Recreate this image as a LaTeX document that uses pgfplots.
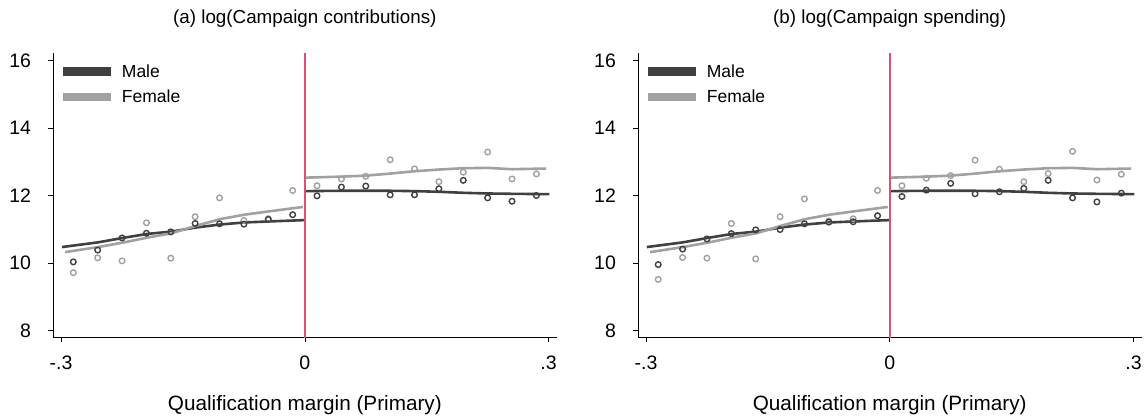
\documentclass[border=0pt]{standalone}
\usepackage{pgfplots}
\pgfplotsset{compat=1.18}
\usepackage{fontspec}
\setmainfont{Liberation Sans}
\definecolor{male}{gray}{0.25}
\definecolor{female}{gray}{0.63}
\definecolor{cut}{RGB}{220,80,115}

\pgfplotstableread{
x y
-0.285 10.03
-0.255 10.38
-0.225 10.74
-0.195 10.88
-0.165 10.92
-0.135 11.17
-0.105 11.16
-0.075 11.15
-0.045 11.29
-0.015 11.43
0.015 11.99
0.045 12.25
0.075 12.28
0.105 12.02
0.135 12.02
0.165 12.20
0.195 12.45
0.225 11.93
0.255 11.83
0.285 12.00
}\aMscat
\pgfplotstableread{
x y
-0.285 9.71
-0.255 10.15
-0.225 10.06
-0.195 11.19
-0.165 10.14
-0.135 11.37
-0.105 11.93
-0.075 11.26
-0.045 11.31
-0.015 12.15
0.015 12.29
0.045 12.49
0.075 12.57
0.105 13.06
0.135 12.79
0.165 12.41
0.195 12.69
0.225 13.29
0.255 12.49
0.285 12.64
}\aFscat
\pgfplotstableread{
x y
-0.285 9.95
-0.255 10.41
-0.225 10.71
-0.195 10.87
-0.165 10.98
-0.135 10.99
-0.105 11.16
-0.075 11.21
-0.045 11.22
-0.015 11.40
0.015 11.97
0.045 12.16
0.075 12.36
0.105 12.05
0.135 12.11
0.165 12.21
0.195 12.45
0.225 11.93
0.255 11.81
0.285 12.07
}\bMscat
\pgfplotstableread{
x y
-0.285 9.51
-0.255 10.16
-0.225 10.14
-0.195 11.17
-0.165 10.12
-0.135 11.37
-0.105 11.90
-0.075 11.24
-0.045 11.31
-0.015 12.15
0.015 12.29
0.045 12.51
0.075 12.59
0.105 13.05
0.135 12.78
0.165 12.41
0.195 12.65
0.225 13.31
0.255 12.46
0.285 12.63
}\bFscat
% smoothed lines
\pgfplotstableread{
x y
-0.299 10.47
-0.2545 10.61
-0.2243 10.74
-0.194 10.86
-0.164 10.93
-0.134 11.05
-0.104 11.14
-0.0745 11.20
-0.044 11.23
-0.0004 11.27
}\MlineL
\pgfplotstableread{
x y
-0.295 10.32
-0.2545 10.47
-0.2243 10.60
-0.194 10.75
-0.164 10.88
-0.134 11.10
-0.104 11.30
-0.0745 11.43
-0.044 11.53
-0.0025 11.66
}\FlineL
\pgfplotstableread{
x y
0.001 12.13
0.045 12.14
0.075 12.14
0.105 12.14
0.135 12.13
0.165 12.11
0.195 12.08
0.225 12.06
0.255 12.05
0.301 12.04
}\MlineR
\pgfplotstableread{
x y
0.001 12.53
0.045 12.56
0.075 12.59
0.105 12.65
0.135 12.72
0.165 12.77
0.195 12.81
0.225 12.82
0.255 12.78
0.297 12.80
}\FlineR

\pgfplotsset{
 rdd/.style={
  scale only axis, width=503.7pt, height=284.4pt,
  xmin=-0.31, xmax=0.31, ymin=7.78, ymax=16.22,
  axis x line*=bottom, axis y line*=left,
  xtick={-0.3,0,0.3}, xticklabels={-.3,0,.3},
  ytick={8,10,12,14,16},
  tick align=outside, major tick length=4.5pt,
  tick style={black, line width=0.6pt},
  axis line style={black, line width=0.8pt},
  tick label style={font=\fontsize{19.5}{22}\selectfont},
  /pgf/number format/assume math mode=true,
  yticklabel style={xshift=-14pt},
  xticklabel style={yshift=-10.5pt},
  title style={at={(0.5,1)}, anchor=base, yshift=23.8pt, font=\fontsize{18.8}{21}\selectfont},
  xlabel style={at={(0.5,0)}, anchor=base, yshift=-73pt, font=\fontsize{20.7}{24}\selectfont},
  xlabel={Qualification margin (Primary)},
  clip=false,
  legend cell align=left,
  legend style={at={(0.0193,1)}, anchor=north west, xshift=-4pt, yshift=-9pt, draw=none, fill=none, inner sep=0pt,
    font=\fontsize{17.5}{20}\selectfont, row sep=7pt,
    /tikz/every odd column/.append style={column sep=4.5pt}},
  legend image code/.code={\draw[line width=8.5pt, line cap=butt] (0pt,0pt) -- (48pt,0pt);},
  scat/.style={only marks, mark=o, mark size=2.8pt, line width=1.4pt},
  lowess/.style={no marks, line width=2.6pt},
 }
}

\begin{document}
\begin{tikzpicture}
\useasboundingbox (0pt,0pt) rectangle (1145pt,418pt);
\begin{axis}[rdd, at={(53pt,80.3pt)}, anchor=south west,
  title={(a) log(Campaign contributions)}]
\addplot[male, lowess] table {\MlineL};
\addlegendentry{Male}
\addplot[female, lowess] table {\FlineL};
\addlegendentry{Female}
\addplot[male, lowess, forget plot] table {\MlineR};
\addplot[female, lowess, forget plot] table {\FlineR};
\addplot[female, scat, forget plot] table {\aFscat};
\addplot[male, scat, forget plot] table {\aMscat};
\addplot[cut, line width=1.8pt, forget plot] coordinates {(0,7.78) (0,16.22)};
\end{axis}
\begin{axis}[rdd, at={(637.9pt,80.3pt)}, anchor=south west,
  title={(b) log(Campaign spending)}]
\addplot[male, lowess] table {\MlineL};
\addlegendentry{Male}
\addplot[female, lowess] table {\FlineL};
\addlegendentry{Female}
\addplot[male, lowess, forget plot] table {\MlineR};
\addplot[female, lowess, forget plot] table {\FlineR};
\addplot[female, scat, forget plot] table {\bFscat};
\addplot[male, scat, forget plot] table {\bMscat};
\addplot[cut, line width=1.8pt, forget plot] coordinates {(0,7.78) (0,16.22)};
\end{axis}
\end{tikzpicture}
\end{document}
